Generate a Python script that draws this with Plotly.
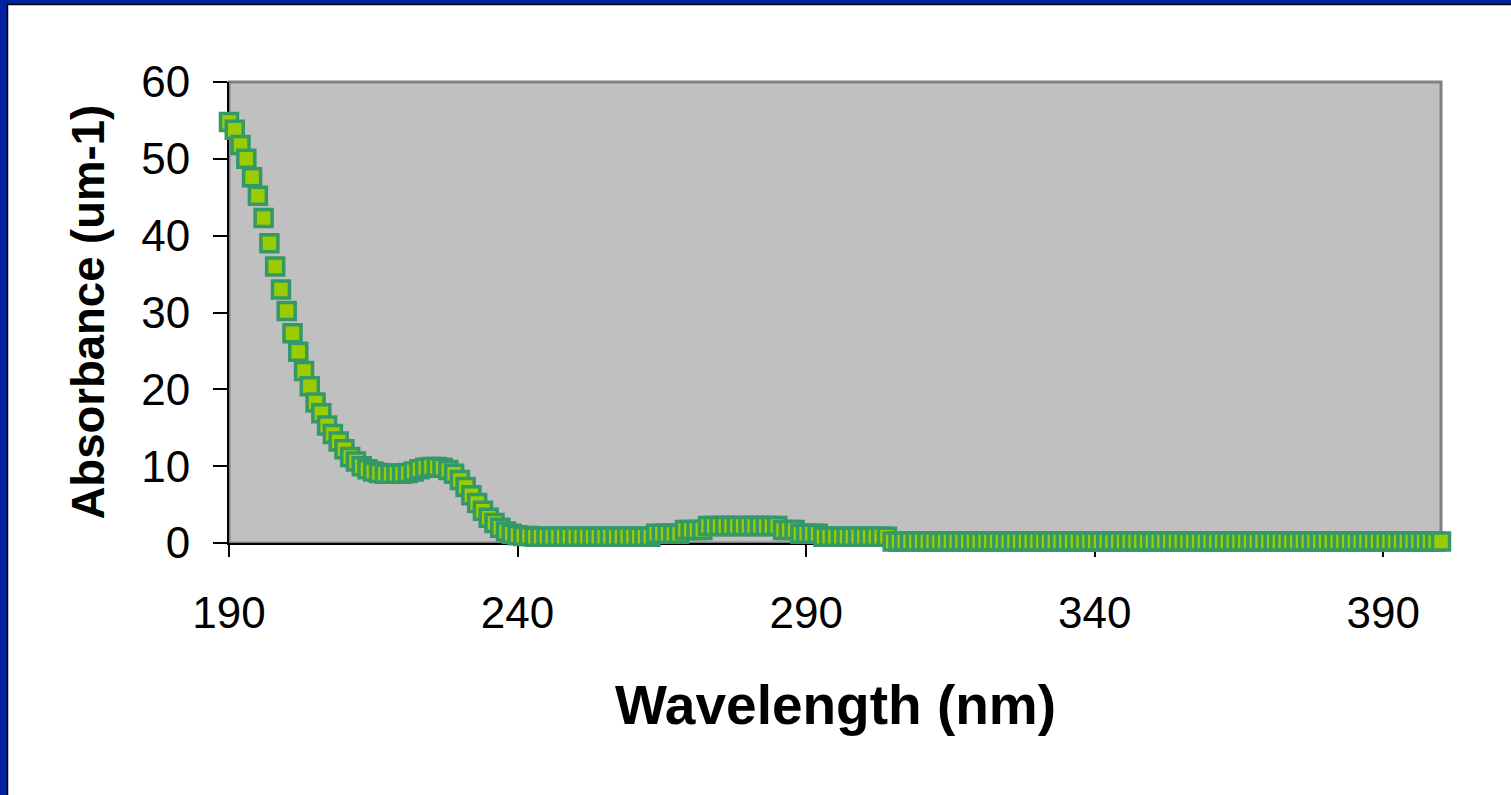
import plotly.graph_objects as go

# Wavelength (nm), 1 nm steps 190..400
wavelength = list(range(190, 401))

absorbance = [
    # 190-199
    54.8, 53.8, 51.8, 50.0, 47.6, 45.2, 42.3, 39.0, 36.0, 33.0,
    # 200-209
    30.2, 27.3, 24.9, 22.4, 20.4, 18.3, 16.9, 15.3, 14.2, 13.2,
    # 210-219
    12.2, 11.2, 10.6, 10.0, 9.6, 9.3, 9.1, 9.0, 9.0, 9.0,
    # 220-229
    9.0, 9.1, 9.3, 9.6, 9.8, 9.9, 9.9, 9.8, 9.5, 9.0,
    # 230-239
    8.2, 7.3, 6.2, 5.2, 4.2, 3.3, 2.6, 2.0, 1.5, 1.2,
    # 240-249
    1.0, 0.9, 0.9, 0.8, 0.8, 0.8, 0.8, 0.8, 0.8, 0.8,
    # 250-259
    0.8, 0.8, 0.8, 0.8, 0.8, 0.8, 0.8, 0.8, 0.8, 0.8,
    # 260-269
    0.8, 0.8, 0.8, 0.8, 1.2, 1.2, 1.2, 1.2, 1.2, 1.7,
    # 270-279
    1.7, 1.7, 1.7, 2.2, 2.2, 2.2, 2.2, 2.2, 2.2, 2.2,
    # 280-289
    2.2, 2.2, 2.2, 2.2, 2.2, 2.2, 1.7, 1.7, 1.7, 1.2,
    # 290-299
    1.2, 1.2, 1.2, 0.8, 0.8, 0.8, 0.8, 0.8, 0.8, 0.8,
    # 300-309
    0.8, 0.8, 0.8, 0.8, 0.8, 0.2, 0.2, 0.2, 0.2, 0.2,
    # 310-319
    0.2, 0.2, 0.2, 0.2, 0.2, 0.2, 0.2, 0.2, 0.2, 0.2,
    # 320-329
    0.2, 0.2, 0.2, 0.2, 0.2, 0.2, 0.2, 0.2, 0.2, 0.2,
    # 330-339
    0.2, 0.2, 0.2, 0.2, 0.2, 0.2, 0.2, 0.2, 0.2, 0.2,
    # 340-349
    0.2, 0.2, 0.2, 0.2, 0.2, 0.2, 0.2, 0.2, 0.2, 0.2,
    # 350-359
    0.2, 0.2, 0.2, 0.2, 0.2, 0.2, 0.2, 0.2, 0.2, 0.2,
    # 360-369
    0.2, 0.2, 0.2, 0.2, 0.2, 0.2, 0.2, 0.2, 0.2, 0.2,
    # 370-379
    0.2, 0.2, 0.2, 0.2, 0.2, 0.2, 0.2, 0.2, 0.2, 0.2,
    # 380-389
    0.2, 0.2, 0.2, 0.2, 0.2, 0.2, 0.2, 0.2, 0.2, 0.2,
    # 390-400
    0.2, 0.2, 0.2, 0.2, 0.2, 0.2, 0.2, 0.2, 0.2, 0.2, 0.2,
]

x_ticks = [190, 240, 290, 340, 390]
y_ticks = [0, 10, 20, 30, 40, 50, 60]
x_title = "Wavelength (nm)"
y_title = "Absorbance (um-1)"

W, H = 1511, 795
ML, MR, MT, MB = 229, 70, 82, 252
PW, PH = W - ML - MR, H - MT - MB


def px(xp):
    return (xp - ML) / PW


def py(yp):
    return (H - MB - yp) / PH


fig = go.Figure()
fig.add_trace(go.Scatter(
    x=wavelength, y=absorbance, mode="markers",
    marker=dict(symbol="square", size=17, color="#9ACC00",
                line=dict(color="#339966", width=3.5)),
    cliponaxis=False, showlegend=False,
))

font = "Liberation Sans, Arial, sans-serif"
fig.update_layout(
    width=W, height=H,
    margin=dict(l=ML, r=MR, t=MT, b=MB, autoexpand=False),
    paper_bgcolor="white", plot_bgcolor="#C0C0C0",
    font=dict(family=font, color="black"),
    xaxis=dict(range=[190, 400], tickvals=x_ticks, ticks="outside",
               ticklen=12, tickwidth=2, tickcolor="black",
               showline=True, linecolor="black", linewidth=2,
               showgrid=False, zeroline=False, layer="below traces",
               tickfont=dict(size=44, family=font), ticklabelstandoff=18,
               automargin=False),
    yaxis=dict(range=[0, 60], tickvals=y_ticks, ticks="outside",
               ticklen=14, tickwidth=2, tickcolor="black",
               showline=True, linecolor="black", linewidth=2,
               showgrid=False, zeroline=False, layer="below traces",
               tickfont=dict(size=44, family=font), ticklabelstandoff=14,
               automargin=False),
    shapes=[
        # grey plot-area border (top/right visible)
        dict(type="rect", xref="paper", yref="paper", x0=0, x1=1, y0=0, y1=1,
             line=dict(color="#808080", width=3), layer="below"),
        # blue slide frame: left and top bands
        dict(type="rect", xref="paper", yref="paper",
             x0=px(-2), x1=px(7), y0=py(H + 2), y1=py(-2),
             fillcolor="#0223A0", line=dict(width=0), layer="above"),
        dict(type="rect", xref="paper", yref="paper",
             x0=px(-2), x1=px(W + 2), y0=py(4), y1=py(-2),
             fillcolor="#0223A0", line=dict(width=0), layer="above"),
        # thin black edge of white panel
        dict(type="line", xref="paper", yref="paper",
             x0=px(7.5), x1=px(7.5), y0=py(H + 2), y1=py(4),
             line=dict(color="black", width=1.5), layer="above"),
        dict(type="line", xref="paper", yref="paper",
             x0=px(7), x1=px(W + 2), y0=py(4.5), y1=py(4.5),
             line=dict(color="black", width=1.5), layer="above"),
    ],
    annotations=[
        dict(text=x_title, xref="paper", yref="paper", x=0.5, y=py(705),
             xanchor="center", yanchor="middle", showarrow=False,
             font=dict(size=55, family="Liberation Sans, Arial", color="black",
                       weight="bold")),
        dict(text=y_title, xref="paper", yref="paper", x=px(88), y=0.5,
             xanchor="center", yanchor="middle", showarrow=False, textangle=-90,
             font=dict(size=45.5, family="Liberation Sans, Arial", color="black",
                       weight="bold")),
    ],
)

fig.write_html(
    "out.html",
    config={"displayModeBar": False},
    post_script="document.body.style.margin='0';document.body.style.overflow='hidden';",
)
